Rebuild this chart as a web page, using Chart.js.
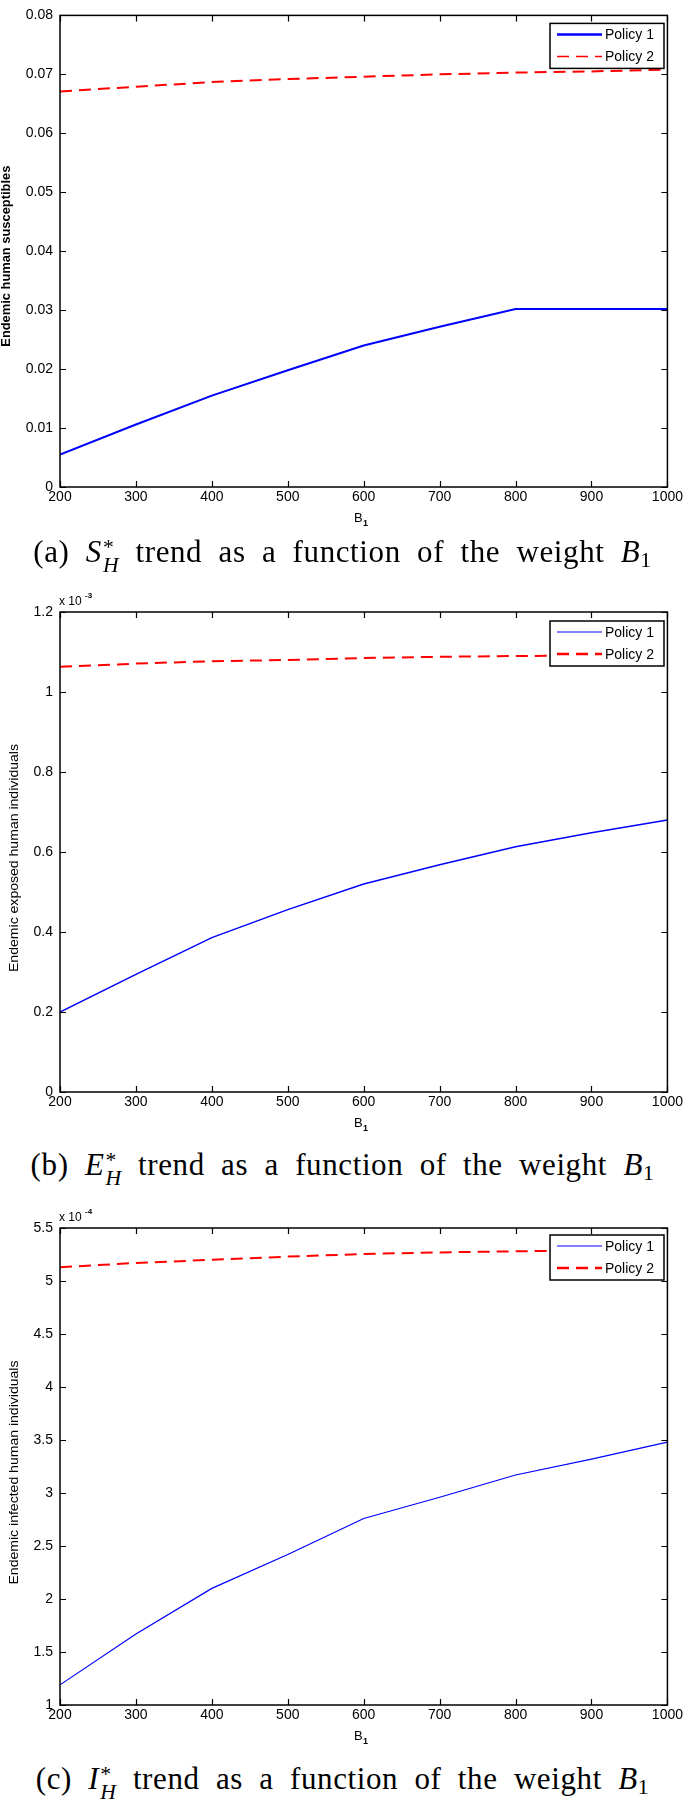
<!DOCTYPE html>
<html>
<head>
<meta charset="utf-8">
<script src="https://cdn.jsdelivr.net/npm/chart.js@4"></script>
<style>
  html, body { margin: 0; padding: 0; background: #fff; }
  body { width: 685px; height: 1801px; position: relative; overflow: hidden; }
  canvas { position: absolute; left: 0; }
  .cap {
    position: absolute; left: 0; width: 685px; text-align: center;
    font: 31px/30px "Liberation Serif", "Times New Roman", serif;
    color: #000; white-space: nowrap; word-spacing: 8px; letter-spacing: 0.6px; z-index: 2;
  }
  .st { display: inline-block; vertical-align: -0.45em; font-size: 0.7em; line-height: 0.8em; text-align: left; margin-left: 1px; }
  .st span { display: block; }
  .cap sub { font-size: 0.7em; vertical-align: -0.25em; line-height: 0; }
</style>
</head>
<body>
<canvas id="c1" width="685" height="545" style="top:0px"></canvas>
<canvas id="c2" width="685" height="560" style="top:575px"></canvas>
<canvas id="c3" width="685" height="560" style="top:1190px"></canvas>

<div class="cap" style="top:537px">(a) <i>S</i><span class="st"><span>*</span><span><i>H</i></span></span> trend as a function of the weight <i>B</i><sub>1</sub></div>
<div class="cap" style="top:1150px">(b) <i>E</i><span class="st"><span>*</span><span><i>H</i></span></span> trend as a function of the weight <i>B</i><sub>1</sub></div>
<div class="cap" style="top:1764px">(c) <i>I</i><span class="st"><span>*</span><span><i>H</i></span></span> trend as a function of the weight <i>B</i><sub>1</sub></div>

<script>
// weight B1 (x axis)
const weights = [200, 300, 400, 500, 600, 700, 800, 900, 1000];
const xTicks = [200, 300, 400, 500, 600, 700, 800, 900, 1000];

// (a) endemic human susceptibles
const susPolicy1 = [0.0055, 0.0106, 0.0155, 0.0198, 0.0240, 0.0272, 0.0302, 0.0302, 0.0302];
const susPolicy2 = [0.0671, 0.0679, 0.0687, 0.0692, 0.0696, 0.0700, 0.0703, 0.0705, 0.0708];
const susTicks = [0, 0.01, 0.02, 0.03, 0.04, 0.05, 0.06, 0.07, 0.08];
const susTickLabels = ['0', '0.01', '0.02', '0.03', '0.04', '0.05', '0.06', '0.07', '0.08'];

// (b) endemic exposed humans, x 10^-3
const expPolicy1 = [0.200, 0.294, 0.386, 0.456, 0.520, 0.568, 0.613, 0.648, 0.680];
const expPolicy2 = [1.063, 1.071, 1.077, 1.080, 1.085, 1.088, 1.090, 1.091, 1.092];
const expTicks = [0, 0.2, 0.4, 0.6, 0.8, 1, 1.2];
const expTickLabels = ['0', '0.2', '0.4', '0.6', '0.8', '1', '1.2'];

// (c) endemic infected humans, x 10^-4
const infPolicy1 = [1.19, 1.67, 2.10, 2.42, 2.76, 2.96, 3.17, 3.32, 3.48];
const infPolicy2 = [5.13, 5.17, 5.20, 5.23, 5.255, 5.27, 5.28, 5.29, 5.30];
const infTicks = [1, 1.5, 2, 2.5, 3, 3.5, 4, 4.5, 5, 5.5];
const infTickLabels = ['1', '1.5', '2', '2.5', '3', '3.5', '4', '4.5', '5', '5.5'];

const FONT = '"Liberation Sans", Arial, sans-serif';

// box, inward ticks, legend, axis titles (MATLAB look)
const frame = {
  id: 'frame',
  afterDatasetsDraw(chart, args, o) {
    const ctx = chart.ctx;
    const { left, right, top, bottom } = chart.chartArea;
    const xs = chart.scales.x, ys = chart.scales.y;
    ctx.save();
    ctx.strokeStyle = '#000';
    ctx.lineWidth = 1.5;
    ctx.strokeRect(left, top, right - left, bottom - top);

    ctx.lineWidth = 1.2;
    ctx.beginPath();
    xs.ticks.forEach(t => {
      const px = Math.round(xs.getPixelForValue(t.value)) + 0.5;
      ctx.moveTo(px, bottom); ctx.lineTo(px, bottom - 6);
      ctx.moveTo(px, top); ctx.lineTo(px, top + 6);
    });
    ys.ticks.forEach(t => {
      const py = Math.round(ys.getPixelForValue(t.value)) + 0.5;
      ctx.moveTo(left, py); ctx.lineTo(left + 6, py);
      ctx.moveTo(right, py); ctx.lineTo(right - 6, py);
    });
    ctx.stroke();

    // legend
    const lx = 550, lw = 114, lt = top + o.legendTop, lh = 45;
    ctx.fillStyle = '#fff';
    ctx.fillRect(lx, lt, lw, lh);
    ctx.lineWidth = 1.5;
    ctx.strokeRect(lx, lt, lw, lh);
    ctx.font = '14px ' + FONT;
    ctx.textBaseline = 'middle';
    ctx.textAlign = 'left';
    chart.data.datasets.forEach((ds, i) => {
      const ry = lt + 11 + i * 22;
      ctx.strokeStyle = ds.borderColor;
      ctx.lineWidth = o.legendWidths[i];
      ctx.setLineDash(ds.borderDash || []);
      ctx.beginPath();
      ctx.moveTo(557, ry); ctx.lineTo(602, ry);
      ctx.stroke();
      ctx.setLineDash([]);
      ctx.fillStyle = '#000';
      ctx.fillText(ds.label, 605, ry + 1);
    });

    // x title B1
    ctx.fillStyle = '#000';
    ctx.textBaseline = 'alphabetic';
    ctx.font = '13px ' + FONT;
    ctx.fillText('B', 354, bottom + 35);
    ctx.font = 'bold 9px ' + FONT;
    ctx.fillText('1', 363, bottom + 39);

    // exponent
    if (o.mult) {
      ctx.font = '12px ' + FONT;
      ctx.fillText('x 10', left - 1, top - 7);
      ctx.font = 'bold 8px ' + FONT;
      ctx.fillText(o.mult, left + 25, top - 14);
    }

    // y title
    ctx.translate(o.titleX, (top + bottom) / 2 + o.titleShift);
    ctx.rotate(-Math.PI / 2);
    ctx.font = o.titleFont;
    const w = ctx.measureText(o.yTitle).width;
    ctx.scale(o.titleLen / w, 1);
    ctx.textAlign = 'center';
    ctx.textBaseline = 'middle';
    ctx.fillText(o.yTitle, 0, 0);
    ctx.restore();
  }
};

function pts(xv, yv) {
  return xv.map((x, i) => ({ x: x, y: yv[i] }));
}

function makeChart(id, c) {
  return new Chart(document.getElementById(id), {
    type: 'line',
    data: {
      datasets: [
        { label: 'Policy 1', data: pts(weights, c.p1), borderColor: '#0000ff', borderWidth: c.w1,
          pointRadius: 0, tension: 0, fill: false },
        { label: 'Policy 2', data: pts(weights, c.p2), borderColor: '#ff0000', borderWidth: 2,
          borderDash: [12, 7], pointRadius: 0, tension: 0, fill: false }
      ]
    },
    options: {
      responsive: false,
      animation: false,
      devicePixelRatio: 1,
      layout: { padding: { top: c.padTop, right: 16, left: 0, bottom: 0 } },
      plugins: {
        legend: { display: false },
        tooltip: { enabled: false },
        frame: {
          legendTop: c.legendTop, legendWidths: c.legendWidths, mult: c.mult,
          yTitle: c.yTitle, titleFont: c.titleFont, titleLen: c.titleLen,
          titleX: c.titleX, titleShift: c.titleShift
        }
      },
      scales: {
        x: {
          type: 'linear', min: 200, max: 1000,
          afterBuildTicks: s => { s.ticks = xTicks.map(v => ({ value: v })); },
          afterFit: s => { s.height = c.xh; },
          grid: { display: false, drawTicks: false },
          border: { display: false },
          ticks: { autoSkip: false, maxRotation: 0, padding: 2, color: '#000',
            font: { size: 14, family: FONT }, callback: v => String(v) }
        },
        y: {
          type: 'linear', min: c.ticks[0], max: c.ticks[c.ticks.length - 1],
          afterBuildTicks: s => { s.ticks = c.ticks.map(v => ({ value: v })); },
          afterFit: s => { s.width = 60; },
          grid: { display: false, drawTicks: false },
          border: { display: false },
          ticks: { autoSkip: false, padding: 7, color: '#000',
            font: { size: 14, family: FONT }, callback: (v, i) => c.labels[i] }
        }
      }
    },
    plugins: [frame]
  });
}

makeChart('c1', {
  p1: susPolicy1, p2: susPolicy2, w1: 2, ticks: susTicks, labels: susTickLabels,
  padTop: 9, xh: 58, legendTop: 8, legendWidths: [2.5, 1.5], mult: null,
  yTitle: 'Endemic human susceptibles', titleFont: 'bold 12px ' + FONT, titleLen: 181,
  titleX: 7, titleShift: 5
});
makeChart('c2', {
  p1: expPolicy1, p2: expPolicy2, w1: 1.5, ticks: expTicks, labels: expTickLabels,
  padTop: 37, xh: 43, legendTop: 9, legendWidths: [1, 2.5], mult: '-3',
  yTitle: 'Endemic exposed human individuals', titleFont: '12px ' + FONT, titleLen: 228,
  titleX: 15, titleShift: 6
});
makeChart('c3', {
  p1: infPolicy1, p2: infPolicy2, w1: 1.2, ticks: infTicks, labels: infTickLabels,
  padTop: 38, xh: 45, legendTop: 7, legendWidths: [1, 2.5], mult: '-4',
  yTitle: 'Endemic infected human individuals', titleFont: '12px ' + FONT, titleLen: 224,
  titleX: 15, titleShift: 6
});
</script>
</body>
</html>
